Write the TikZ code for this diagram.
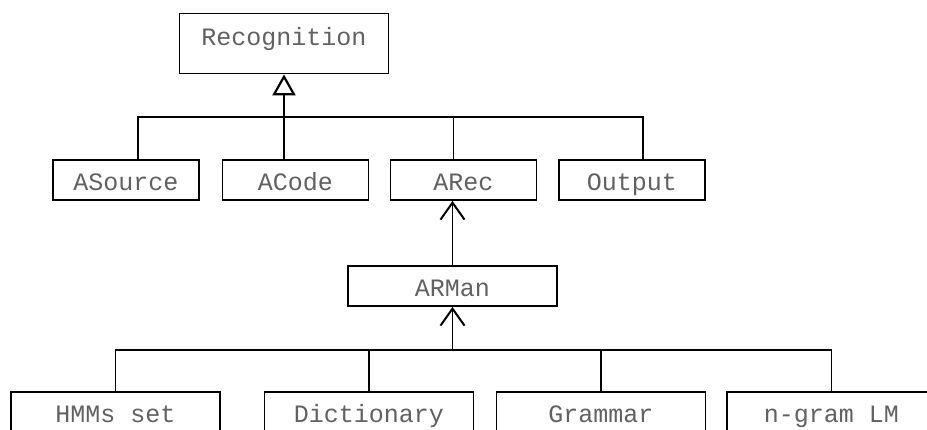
\documentclass[tikz,border=0pt]{standalone}
\usepackage{fontspec}
\setmonofont{Liberation Mono}
\usetikzlibrary{arrows.meta}
\tikzset{
  cls/.style={draw, line width=1.8pt, rectangle, inner sep=0pt,
    minimum height=40pt, text=black!62,
    font=\ttfamily\fontsize{25}{25}\selectfont,
    text height=22pt, text depth=0pt},
  wide/.style={minimum width=209pt},
  narrow/.style={minimum width=146pt},
  conn/.style={line width=1.8pt},
  gen/.style={conn, -{Triangle[open, length=21pt, width=23pt, line width=2.2pt]}},
  uses/.style={conn, -{Straight Barb[length=17pt, width=24pt, line width=2pt]}}
}
\begin{document}
\begin{tikzpicture}[x=1pt, y=-1pt]
  \fill[white] (0,0) rectangle (927,430);
  \useasboundingbox (0,0) rectangle (927,430);
  \clip (0,0) rectangle (927,430);

  % class boxes
  \node[cls, wide, minimum height=60pt, text height=14pt, text depth=9pt] (rec) at (284,43.5) {Recognition};
  \node[cls, narrow] (src) at (126,180) {ASource};
  \node[cls, narrow] (code) at (295.5,180) {ACode};
  \node[cls, narrow] (arec) at (463.5,180) {ARec};
  \node[cls, narrow] (out) at (632,180) {Output};
  \node[cls, wide] (arman) at (452.5,286) {ARMan};
  \node[cls, wide] (hmm) at (115.5,412) {HMMs set};
  \node[cls, wide] (dict) at (369,412) {Dictionary};
  \node[cls, wide] (gram) at (601,412) {Grammar};
  \node[cls, wide] (ngram) at (831.5,412) {n-gram LM};

  % bus lines
  \coordinate (topbus) at (0,117);
  \coordinate (botbus) at (0,350);

  % upper tree: components of Recognition
  \draw[conn] ([xshift=12pt]src.north) -- ([xshift=12pt]src.north |- topbus)
              -| ([xshift=11pt]out.north);
  \draw[conn] ([xshift=-10pt]arec.north) -- ([xshift=-10pt]arec.north |- topbus);
  \draw[gen] (code.north -| rec.south) -- (rec.south);

  % ARMan used by ARec
  \draw[uses] (arman.north) -- (arman.north |- arec.south);

  % lower tree: resources of ARMan
  \draw[conn] (hmm.north) -- (hmm.north |- botbus) -| (ngram.north);
  \draw[conn] (dict.north) -- (dict.north |- botbus);
  \draw[conn] (gram.north) -- (gram.north |- botbus);
  \draw[uses] (arman.south |- botbus) -- (arman.south);
\end{tikzpicture}
\end{document}
